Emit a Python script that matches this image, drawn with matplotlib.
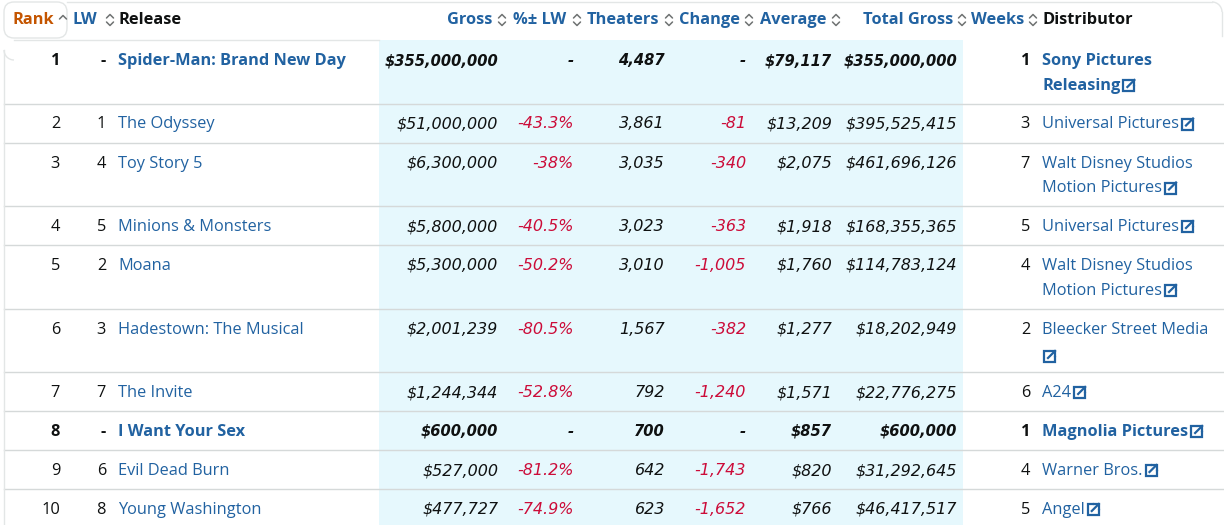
import matplotlib
matplotlib.use("Agg")
import matplotlib.pyplot as plt
from matplotlib import font_manager
from matplotlib.patches import FancyBboxPatch, Rectangle, Arc

# ---- data ----
rank = [1, 2, 3, 4, 5, 6, 7, 8, 9, 10]
last_week = [None, 1, 4, 5, 2, 3, 7, None, 6, 8]
release = ['Spider-Man: Brand New Day', 'The Odyssey', 'Toy Story 5', 'Minions & Monsters',
           'Moana', 'Hadestown: The Musical', 'The Invite', 'I Want Your Sex',
           'Evil Dead Burn', 'Young Washington']
gross = [355000000, 51000000, 6300000, 5800000, 5300000, 2001239, 1244344, 600000, 527000, 477727]
pct_lw = [None, -43.3, -38, -40.5, -50.2, -80.5, -52.8, None, -81.2, -74.9]
theaters = [4487, 3861, 3035, 3023, 3010, 1567, 792, 700, 642, 623]
change = [None, -81, -340, -363, -1005, -382, -1240, None, -1743, -1652]
average = [79117, 13209, 2075, 1918, 1760, 1277, 1571, 857, 820, 766]
total_gross = [355000000, 395525415, 461696126, 168355365, 114783124, 18202949,
               22776275, 600000, 31292645, 46417517]
weeks = [1, 3, 7, 5, 4, 2, 6, 1, 4, 5]
distributor = [['Sony Pictures', 'Releasing'], ['Universal Pictures'],
               ['Walt Disney Studios', 'Motion Pictures'], ['Universal Pictures'],
               ['Walt Disney Studios', 'Motion Pictures'], ['Bleecker Street Media', ''],
               ['A24'], ['Magnolia Pictures'], ['Warner Bros.'], ['Angel']]
headers = ['Rank', 'LW', 'Release', 'Gross', '%\u00b1 LW', 'Theaters', 'Change',
           'Average', 'Total Gross', 'Weeks', 'Distributor']

BLUE = '#2162a1'
RED = '#cc0c39'
BLACK = '#0f1111'
ORANGE = '#c45500'
GRID = '#d5d9d9'
BORDER = '#e3e6e6'
BAND = '#e6f8fd'
FS = 11.8


def pick_font(names):
    # first family that really has a bold face installed
    for name in names:
        ws = [f.weight for f in font_manager.fontManager.ttflist if f.name == name]
        if any((w if isinstance(w, int) else 700 if 'bold' in str(w) else 400) >= 600 for w in ws):
            return name
    return 'DejaVu Sans'


FONT = pick_font(['Noto Sans', 'Open Sans', 'Lato', 'Roboto', 'Liberation Sans'])
NUMFONT = 'DejaVu Sans'

fig = plt.figure(figsize=(12.24, 5.25), dpi=100)
ax = fig.add_axes([0, 0, 1, 1])
ax.set_xlim(0, 1224)
ax.set_ylim(525, 0)
ax.axis('off')


def money(v):
    return '${:,}'.format(v)


def neg(v, fmt):
    return '-' if v is None else fmt(v)


# row geometry
heights = [63.5 if len(d) > 1 else 39 for d in distributor]
tops = [40]
for h in heights[:-1]:
    tops.append(tops[-1] + h)

# shaded band behind Gross..Total Gross
ax.add_patch(Rectangle((379, 40), 584, 500, facecolor=BAND, edgecolor='none', zorder=0))

# borders
ax.add_patch(FancyBboxPatch((4, 2), 63, 36, boxstyle='round,pad=0,rounding_size=10',
                            facecolor='none', edgecolor=BORDER, lw=1, zorder=1))
ax.plot([67, 1212], [2, 2], color=BORDER, lw=1)
ax.add_patch(Arc((1212, 12), 20, 20, theta1=270, theta2=360, color=BORDER, lw=1))
ax.plot([1222, 1222], [12, 36], color=BORDER, lw=1)
ax.add_patch(Arc((14, 50), 20, 20, theta1=90, theta2=180, color=BORDER, lw=1))
ax.plot([4, 4], [50, 525], color=BORDER, lw=1)
ax.plot([14, 379], [40, 40], color=BORDER, lw=1)
for t in tops[1:]:
    ax.plot([4, 1224], [t, t], color=GRID, lw=1, zorder=1)


def chevrons(x, y, up_only=False):
    ax.plot([x - 3.5, x, x + 3.5], [y - 2, y - 5.5, y - 2], color='#6f7373', lw=1.1,
            solid_capstyle='round', zorder=3)
    if not up_only:
        ax.plot([x - 3.5, x, x + 3.5], [y + 2, y + 5.5, y + 2], color='#6f7373', lw=1.1,
                solid_capstyle='round', zorder=3)


# header
hy = 20
hkw = dict(fontsize=FS, fontweight='bold', family=FONT, va='center')
ax.text(12, hy, headers[0], color=ORANGE, ha='left', **hkw)
chevrons(63, hy + 1, up_only=True)
ax.text(73, hy, headers[1], color=BLUE, ha='left', **hkw)
chevrons(110, hy)
ax.text(118, hy, headers[2], color=BLACK, ha='left', **hkw)
for label, xr, xa in zip(headers[3:10], [492, 566, 659, 740, 826, 953, 1024],
                         [502, 577, 669, 749, 836, 962, 1033]):
    ax.text(xr, hy, label, color=BLUE, ha='right', **hkw)
    chevrons(xa, hy)
ax.text(1042, hy, headers[10], color=BLACK, ha='left', **hkw)

fig.canvas.draw()
renderer = fig.canvas.get_renderer()
inv = ax.transData.inverted()


def link_icon(x, y):
    # small external-link glyph, x = left edge, y = centre
    s = 11
    x0, y0 = x, y - s / 2 + 1
    ax.plot([x0 + 5, x0, x0, x0 + s, x0 + s], [y0, y0, y0 + s, y0 + s, y0 + 6],
            color=BLUE, lw=1.6, solid_joinstyle='miter', zorder=3)
    ax.plot([x0 + 4, x0 + s], [y0 + 7, y0], color=BLUE, lw=1.6, zorder=3)
    ax.plot([x0 + 6.5, x0 + s, x0 + s], [y0, y0, y0 + 4.5], color=BLUE, lw=1.6,
            solid_joinstyle='miter', zorder=3)


def text_right_edge(t):
    bb = t.get_window_extent(renderer)
    return inv.transform((bb.x1, bb.y0))[0]


for i in range(len(rank)):
    yb = tops[i] + 25          # text baseline
    bold = last_week[i] is None
    w = 'bold' if bold else 'normal'
    kw = dict(fontsize=FS, family=FONT, va='baseline', fontweight=w)
    ikw = dict(fontsize=10.6 if bold else 11.5, family=NUMFONT, va='baseline',
               fontweight=w, style='italic')
    ax.text(60, yb, str(rank[i]), color=BLACK, ha='right', **kw)
    ax.text(106, yb, neg(last_week[i], str), color=BLACK, ha='right', **kw)
    ax.text(118, yb, release[i], color=BLUE, ha='left', **kw)
    ax.text(498, yb, money(gross[i]), color=BLACK, ha='right', **ikw)
    ax.text(574, yb, neg(pct_lw[i], lambda v: '{:g}%'.format(v)),
            color=BLACK if pct_lw[i] is None else RED, ha='right', **ikw)
    ax.text(665, yb, '{:,}'.format(theaters[i]), color=BLACK, ha='right', **ikw)
    ax.text(746, yb, neg(change[i], lambda v: '{:,}'.format(v)),
            color=BLACK if change[i] is None else RED, ha='right', **ikw)
    ax.text(832, yb, money(average[i]), color=BLACK, ha='right', **ikw)
    ax.text(957, yb, money(total_gross[i]), color=BLACK, ha='right', **ikw)
    ax.text(1030, yb, str(weeks[i]), color=BLACK, ha='right', **kw)
    lines = distributor[i]
    t = None
    for j, line in enumerate(lines):
        lb = yb + 25 * j
        if line:
            t = ax.text(1042, lb, line, color=BLUE, ha='left', **kw)
        if j == len(lines) - 1:
            if line:
                link_icon(text_right_edge(t) + 3, lb - 5.5)
            else:
                link_icon(1044, lb - 3)

fig.savefig('out.png', dpi=100)
